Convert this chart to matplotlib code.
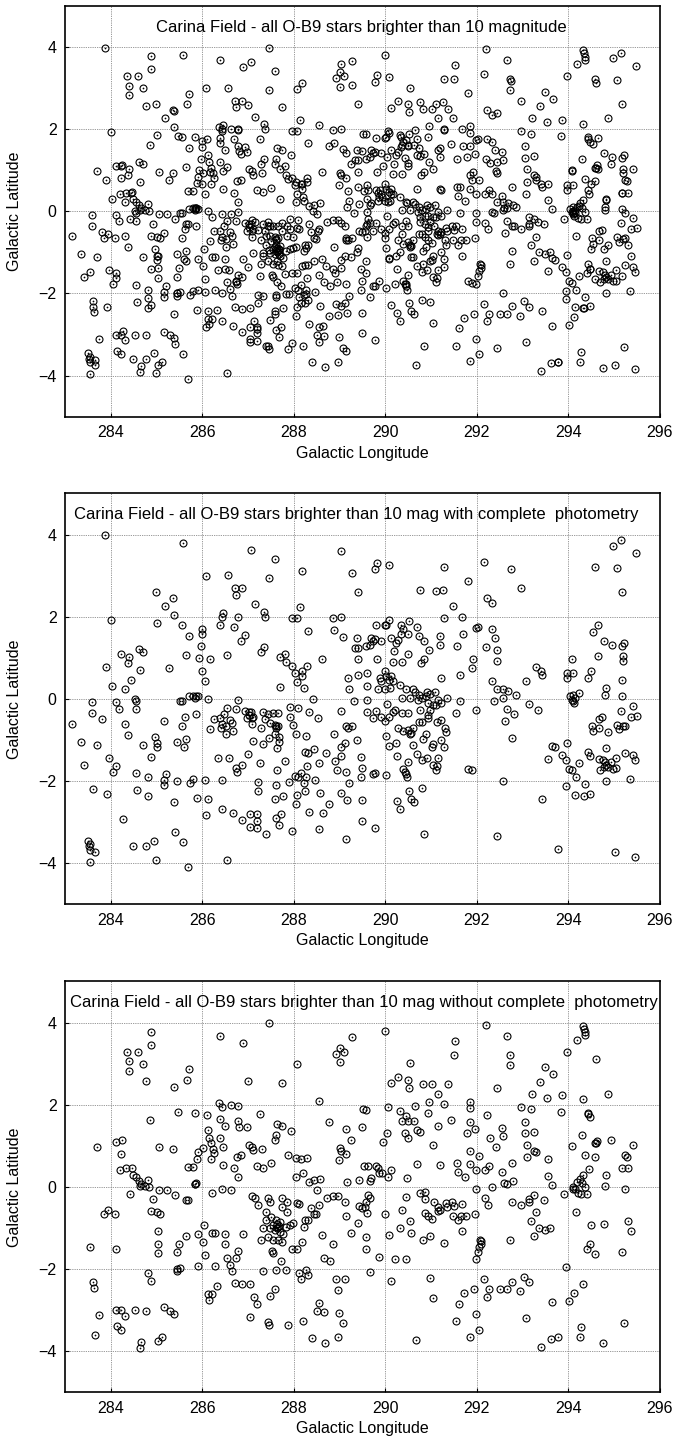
import numpy as np
import matplotlib
matplotlib.use("Agg")
import matplotlib.pyplot as plt

plt.rcParams['font.family'] = ['Liberation Sans', 'DejaVu Sans']

# O-B9 stars (l, b) with complete photometry
phot_stars = [
    (283.87, 3.98), (285.58, 3.80), (287.06, 3.62), (287.59, 3.41), (289.04, 3.59),
    (286.08, 2.99), (286.56, 3.01), (287.46, 2.94), (288.18, 3.12), (289.28, 3.07),
    (284.99, 2.61), (286.71, 2.69), (286.86, 2.69), (286.73, 2.54), (285.36, 2.46),
    (285.18, 2.27), (287.16, 2.30), (288.13, 2.23), (289.41, 2.61), (285.39, 2.05),
    (286.46, 2.09), (286.43, 2.00), (287.35, 2.12), (287.37, 1.99), (286.78, 1.99),
    (287.97, 1.96), (288.06, 1.96), (288.85, 1.97), (289.04, 1.99), (284.00, 1.92),
    (285.02, 1.86), (285.56, 1.81), (286.00, 1.70), (286.38, 1.79), (286.70, 1.75),
    (288.31, 1.66), (288.88, 1.67), (285.99, 1.57), (285.71, 1.53), (286.94, 1.56),
    (286.85, 1.40), (289.07, 1.51), (289.39, 1.49), (285.98, 1.28), (287.35, 1.27),
    (287.28, 1.15), (289.33, 1.24), (289.41, 1.25), (284.62, 1.21), (284.71, 1.15),
    (284.23, 1.10), (284.40, 1.02), (284.38, 0.88), (285.64, 1.08), (286.55, 1.08),
    (285.93, 1.00), (286.16, 0.96), (287.70, 1.02), (287.80, 1.10), (287.82, 0.89),
    (287.97, 0.81), (288.29, 0.80), (288.62, 0.96), (289.41, 0.96), (283.89, 0.77),
    (284.64, 0.71), (285.27, 0.75), (285.99, 0.67), (288.02, 0.63), (288.18, 0.67),
    (288.18, 0.55), (289.60, 0.63), (284.44, 0.45), (286.07, 0.43), (288.06, 0.42),
    (289.19, 0.50), (289.41, 0.59), (284.03, 0.31), (284.32, 0.23), (287.70, 0.30),
    (288.22, 0.26), (289.21, 0.24), (289.60, 0.31),
    (285.52, -0.05), (285.55, -0.05), (285.71, 0.06), (285.80, 0.07), (285.86, 0.07),
    (285.90, 0.06), (285.84, 0.03), (286.13, 0.00), (286.78, -0.02), (283.58, -0.08),
    (284.11, -0.08), (284.52, 0.00), (284.55, -0.05), (284.18, -0.24), (284.55, -0.24),
    (283.58, -0.35), (283.81, -0.50), (283.15, -0.61), (284.32, -0.60), (285.16, -0.54),
    (285.63, -0.43), (285.87, -0.36), (285.56, -0.66), (284.37, -0.88), (283.35, -1.04),
    (283.69, -1.12), (284.71, -1.12), (284.97, -0.92), (285.02, -1.08), (285.00, -1.18),
    (285.44, -1.05), (285.64, -0.97), (285.60, -1.17), (284.87, -1.41), (283.96, -1.44),
    (283.42, -1.61), (284.12, -1.62), (284.05, -1.77), (284.55, -1.80), (284.82, -1.91),
    (285.20, -1.82), (285.16, -1.97), (285.17, -2.09), (285.44, -1.99), (285.73, -2.04),
    (285.80, -1.95), (286.06, -1.97), (286.43, -1.98), (283.61, -2.19), (283.92, -2.32),
    (284.57, -2.21), (284.81, -2.36), (285.38, -2.51), (285.89, -2.41), (286.13, -2.43),
    (284.27, -2.92), (286.09, -2.82), (286.44, -2.68), (286.67, -2.78), (286.86, -2.94),
    (287.04, -2.81), (287.19, -2.81), (287.20, -2.97), (287.04, -3.12), (287.19, -3.15),
    (287.40, -3.29), (287.60, -2.90), (287.71, -2.81), (287.67, -3.07), (287.97, -3.21),
    (285.41, -3.23), (285.58, -3.47), (284.94, -3.45), (284.78, -3.59), (284.49, -3.59),
    (283.50, -3.45), (283.54, -3.54), (283.54, -3.67), (283.65, -3.73), (283.53, -3.59),
    (283.54, -3.97), (284.98, -3.93), (285.69, -4.09), (286.53, -3.93),
    (286.26, -0.49), (286.38, -0.47), (286.48, -0.36), (286.53, -0.23), (286.44, -0.62),
    (286.41, -0.70), (286.51, -0.67), (286.51, -0.86), (286.60, -0.51), (286.66, -0.59),
    (286.67, -0.79), (286.73, -0.24), (286.16, -0.73), (286.94, -0.29), (287.01, -0.31),
    (287.06, -0.32), (287.02, -0.39), (286.97, -0.47), (287.08, -0.47), (287.11, -0.43),
    (287.08, -0.62), (287.33, -0.32), (287.44, -0.37), (287.55, -0.35), (287.66, -0.35),
    (287.37, -0.49), (287.48, -0.59), (287.59, -0.63), (287.62, -0.67), (287.66, -0.65),
    (287.61, -0.71), (287.28, -0.70), (287.11, -1.02), (287.32, -1.10), (287.45, -0.94),
    (287.59, -0.86), (287.67, -0.93), (287.67, -1.05), (287.64, -1.20), (287.91, -0.19),
    (287.91, -0.43), (288.10, -0.21), (287.99, -0.63), (288.42, 0.00), (288.34, -0.32),
    (288.52, -0.47), (288.04, -0.86), (288.26, -0.90), (289.04, -0.29), (289.14, -0.65),
    (289.19, -0.71), (289.28, -0.65), (289.31, -0.04), (289.60, -0.02), (289.60, -0.32),
    (289.39, -1.00), (288.88, -0.86), (289.12, -1.08), (289.02, -1.18), (288.24, -1.30),
    (288.31, -1.31), (288.44, -1.22), (288.70, -1.32), (288.90, -1.51), (289.02, -1.39),
    (288.55, -1.55), (288.29, -1.63), (288.15, -1.79), (287.81, -1.52), (287.64, -1.73),
    (288.03, -1.87), (288.10, -1.91), (288.23, -2.04), (288.27, -1.91), (287.90, -2.01),
    (288.47, -1.97), (288.94, -1.73), (289.15, -1.78), (289.21, -2.05), (289.46, -1.91),
    (289.48, -1.69), (289.47, -1.41), (286.34, -1.44), (286.58, -1.44), (286.73, -1.69),
    (286.75, -1.78), (286.87, -1.61), (286.99, -1.35), (287.26, -1.57), (287.21, -2.03),
    (287.21, -2.24), (287.62, -2.09), (287.77, -2.35), (287.59, -2.43), (288.07, -2.34),
    (288.05, -2.55), (288.25, -2.24), (288.58, -2.30), (288.77, -2.55), (288.34, -2.74),
    (288.64, -2.78), (289.04, -2.30), (289.17, -2.47), (289.48, -2.47), (289.50, -2.97),
    (288.56, -3.17), (289.15, -3.41),
    (295.15, 3.86), (294.98, 3.72), (295.47, 3.54), (294.58, 3.21), (295.07, 3.19),
    (295.18, 2.60), (292.16, 3.33), (292.74, 3.17), (291.28, 3.22), (290.09, 3.27),
    (289.77, 3.15), (289.82, 3.31), (291.81, 2.88), (290.75, 2.66), (291.10, 2.62),
    (291.26, 2.66), (292.97, 2.69), (292.23, 2.46), (292.33, 2.34), (291.47, 2.27),
    (291.28, 1.97), (291.68, 1.99), (291.99, 1.73), (292.03, 1.75), (291.70, 1.58),
    (292.34, 1.69), (292.39, 1.49), (292.19, 1.26), (292.43, 1.20), (292.45, 0.93),
    (291.57, 1.28), (291.19, 1.53), (291.19, 1.32), (290.95, 1.20), (290.69, 1.75),
    (290.74, 1.54), (290.84, 1.40), (290.35, 1.81), (290.52, 1.89), (290.35, 1.57),
    (290.39, 1.69), (290.50, 1.59), (290.09, 1.91), (290.02, 1.81), (289.80, 1.79),
    (289.99, 1.79), (289.69, 1.49), (289.73, 1.41), (289.66, 1.32), (289.77, 1.45),
    (289.91, 1.42), (290.13, 1.49), (290.24, 1.36), (290.28, 1.44), (290.19, 1.16),
    (290.50, 1.10), (290.37, 0.90), (290.17, 0.90), (289.82, 0.96), (289.58, 1.28),
    (290.77, 0.88), (290.84, 0.96), (291.92, 0.96), (291.90, 0.76), (291.22, 0.51),
    (291.64, 0.59), (289.99, 0.67), (290.02, 0.55), (290.08, 0.47), (290.17, 0.43),
    (290.13, 0.55), (289.88, 0.51), (289.90, 0.43), (290.31, 0.35), (290.46, 0.23),
    (290.60, 0.23), (293.30, 0.77), (293.43, 0.58), (293.41, 0.67), (293.97, 0.63),
    (294.10, 0.63), (293.97, 0.51), (294.07, 0.98), (294.43, 0.51), (294.50, 0.67),
    (294.65, 1.04), (294.83, 0.27), (295.17, 0.45), (295.19, 1.04), (295.19, 0.92),
    (295.22, 1.36), (295.16, 1.30), (294.54, 1.63), (294.65, 1.79), (294.78, 1.42),
    (294.96, 1.32), (292.33, 0.43), (292.43, 0.23), (292.57, 0.23), (292.68, 0.19),
    (293.08, 0.43),
    (289.73, -0.47), (289.80, -0.29), (289.91, -0.43), (289.99, -0.54), (290.09, -0.43),
    (290.17, -0.31), (290.20, -0.27), (290.04, -0.12), (289.84, 0.24), (289.99, 0.24),
    (290.11, 0.26), (290.37, 0.02), (290.53, 0.03), (290.64, 0.18), (290.74, 0.10),
    (290.71, -0.02), (290.79, 0.02), (290.90, 0.16), (290.89, 0.06), (290.97, 0.11),
    (291.08, 0.16), (290.93, -0.11), (291.03, -0.15), (290.98, -0.27), (291.10, -0.15),
    (291.15, -0.02), (291.22, -0.11), (291.35, 0.02), (291.63, -0.05), (291.54, -0.35),
    (291.98, -0.27), (290.37, -0.35), (290.50, -0.35), (290.75, -0.27), (290.74, -0.55),
    (290.93, -0.39), (290.93, -0.47), (290.79, -0.55), (291.13, -0.55), (291.22, -0.51),
    (290.28, -0.71), (290.39, -0.79), (290.50, -0.75), (290.53, -0.86), (290.57, -0.84),
    (290.60, -0.71), (291.30, -0.70), (291.32, -0.81), (290.02, -0.89), (290.24, -1.08),
    (290.08, -1.14), (290.60, -1.12), (290.82, -0.97), (290.88, -0.86), (291.03, -1.10),
    (291.02, -1.18), (291.22, -1.00), (291.28, -1.16), (290.26, -1.40), (290.69, -1.34),
    (290.79, -1.48), (290.91, -1.44), (291.15, -1.44), (290.50, -1.54), (291.04, -1.61),
    (291.13, -1.62), (291.10, -1.73), (290.39, -1.70), (290.45, -1.83), (290.48, -1.91),
    (290.42, -1.78), (290.02, -1.86), (289.72, -1.83), (289.77, -1.81), (291.81, -1.70),
    (291.90, -1.74), (292.58, -2.00), (290.52, -2.24), (290.79, -2.17), (290.26, -2.48),
    (290.57, -2.43), (290.62, -2.51), (290.33, -2.68), (289.77, -3.13), (290.84, -3.29),
    (292.44, -3.33), (293.43, -2.43), (293.78, -3.66), (295.01, -3.73), (295.46, -3.84),
    (292.86, 0.10), (292.37, -0.04), (292.56, 0.02), (292.65, -0.24), (292.81, -0.37),
    (292.62, -0.54), (293.13, -0.13), (293.34, -0.27), (292.76, -0.96),
    (294.03, 0.06), (294.07, -0.02), (294.10, -0.06), (294.14, 0.02), (294.10, 0.10),
    (294.23, 0.14), (294.12, -0.11), (294.80, 0.10), (295.18, 0.06), (295.42, -0.16),
    (295.50, -0.41), (295.36, -0.43), (295.14, -0.29), (294.67, -0.49), (294.73, -0.45),
    (294.52, -0.66), (294.54, -0.79), (294.67, -0.71), (294.87, -0.81), (295.07, -0.63),
    (295.11, -0.74), (295.20, -0.67), (295.23, -0.66), (293.63, -1.14), (293.70, -1.18),
    (293.56, -1.46), (293.85, -1.36), (293.96, -1.06), (293.94, -1.48), (294.02, -1.70),
    (294.07, -1.74), (294.16, -1.91), (294.23, -1.57), (294.43, -1.28), (294.47, -1.40),
    (294.83, -1.20), (294.67, -1.46), (294.76, -1.48), (294.80, -1.54), (294.83, -1.61),
    (294.87, -1.65), (294.77, -1.65), (294.70, -1.73), (294.94, -1.54), (294.98, -1.70),
    (295.04, -1.69), (295.04, -1.43), (294.83, -1.99), (295.23, -1.31), (295.40, -1.36),
    (295.46, -1.49), (295.35, -1.95), (293.94, -2.13), (294.14, -2.34), (294.34, -2.36),
    (294.48, -2.31), (294.36, -2.08),
]

# O-B9 stars (l, b) without complete photometry
nophot_stars = [
    (287.46, 3.98), (284.87, 3.77), (286.38, 3.67), (286.88, 3.51), (289.28, 3.66),
    (284.36, 3.29), (284.60, 3.29), (284.89, 3.45), (284.39, 3.06), (284.71, 3.00),
    (284.39, 2.83), (289.01, 3.38), (289.09, 3.29), (288.92, 3.24), (289.01, 3.03),
    (288.07, 2.98), (285.71, 2.86), (285.67, 2.60), (284.77, 2.57), (285.38, 2.43),
    (286.99, 2.58), (287.74, 2.53), (288.56, 2.09), (286.37, 2.04), (286.42, 1.95),
    (286.62, 1.99), (286.79, 1.97), (284.85, 1.62), (285.46, 1.83), (285.84, 1.81),
    (286.10, 1.75), (287.27, 1.77), (286.38, 1.65), (286.49, 1.49), (286.77, 1.60),
    (286.80, 1.47), (286.97, 1.45), (286.12, 1.38), (286.14, 1.20), (286.39, 1.19),
    (286.46, 0.97), (286.19, 1.06), (287.64, 1.53), (287.75, 1.49), (287.62, 1.26),
    (287.59, 1.15), (287.94, 1.36), (288.77, 1.58), (289.14, 1.42), (289.26, 1.15),
    (289.50, 1.46), (289.52, 1.89), (289.58, 1.88), (289.00, 0.94), (289.04, 0.88),
    (289.14, 0.80), (288.99, 0.65), (283.71, 0.98), (284.12, 1.10), (284.25, 1.13),
    (284.22, 0.80), (285.06, 0.96), (285.36, 0.93), (285.91, 0.84), (285.89, 0.69),
    (286.02, 0.94), (286.24, 0.92), (286.25, 0.82), (286.19, 0.67), (286.75, 0.73),
    (286.84, 0.77), (287.02, 1.02), (287.08, 0.98), (287.11, 0.89), (287.30, 0.92),
    (287.19, 0.51), (287.33, 0.47), (287.50, 0.57), (286.45, 0.54), (286.70, 0.45),
    (286.78, 0.23), (287.88, 0.78), (288.05, 0.70), (288.15, 0.67), (288.28, 0.70),
    (285.69, 0.49), (285.80, 0.49), (284.21, 0.42), (284.33, 0.45), (284.47, 0.47),
    (284.49, 0.29), (284.55, 0.23), (284.61, 0.15), (284.67, 0.07), (284.82, 0.18),
    (284.63, 0.03), (284.74, 0.03), (284.84, 0.01), (284.43, -0.18), (285.06, -0.07),
    (285.23, -0.07), (285.41, -0.20), (285.84, 0.07), (285.86, 0.09), (285.85, 0.06),
    (286.22, -0.14), (286.42, -0.06), (286.62, -0.07), (288.05, 0.23), (288.21, 0.35),
    (288.34, 0.13), (288.44, 0.16), (288.57, 0.20), (288.51, -0.07), (289.17, 0.11),
    (289.42, 0.17), (289.53, 0.50),
    (292.19, 3.94), (290.00, 3.80), (292.65, 3.68), (294.32, 3.92), (294.34, 3.84),
    (294.36, 3.76), (294.36, 3.69), (294.19, 3.58), (293.96, 3.29), (294.61, 3.11),
    (291.52, 3.55), (291.50, 3.21), (290.53, 3.01), (292.73, 3.22), (292.72, 2.96),
    (290.28, 2.68), (290.12, 2.52), (290.50, 2.61), (290.51, 2.41), (290.82, 2.50),
    (291.01, 2.50), (291.37, 2.50), (291.15, 2.26), (290.95, 2.07), (290.93, 1.81),
    (291.28, 2.01), (290.64, 1.97), (290.06, 1.95), (292.43, 2.40), (293.48, 2.91),
    (293.67, 2.74), (293.37, 2.56), (293.21, 2.26), (293.54, 2.16), (293.86, 2.23),
    (293.83, 1.83), (294.87, 2.26), (294.31, 2.13), (291.84, 2.07), (291.86, 1.91),
    (290.31, 1.85), (290.44, 1.73), (290.37, 1.61), (290.50, 1.61), (290.63, 1.61),
    (290.42, 1.30), (290.50, 1.18), (290.69, 1.38), (290.75, 1.34), (290.04, 1.32),
    (289.95, 1.10), (291.14, 1.49), (291.03, 1.02), (291.44, 1.63), (291.84, 1.58),
    (291.95, 1.40), (291.79, 1.32), (292.22, 1.75), (292.96, 1.95), (293.18, 1.89),
    (293.06, 1.59), (293.05, 1.30), (293.24, 1.34), (292.55, 1.43), (292.57, 1.24),
    (292.28, 1.18), (292.41, 0.98), (293.10, 1.02), (293.24, 0.88), (293.29, 0.84),
    (293.10, 0.72), (293.56, 0.67), (291.84, 0.88), (292.04, 0.76), (291.57, 0.59),
    (291.59, 0.37), (291.75, 0.24), (291.84, 0.55), (291.99, 0.41), (292.17, 0.41),
    (292.27, 0.51), (291.20, 0.54), (290.69, 0.55), (290.48, 0.21), (292.54, 0.37),
    (292.77, 0.58), (293.56, 0.27), (293.65, 0.05), (292.59, 0.09), (292.65, 0.07),
    (292.78, 0.15), (292.32, -0.01), (291.98, -0.04), (294.08, 1.00), (294.29, 1.26),
    (294.42, 1.77), (294.47, 1.69), (294.43, 1.81), (294.58, 1.06), (294.63, 1.12),
    (294.60, 1.06), (294.92, 1.15), (295.40, 1.02), (294.36, 0.78), (294.57, 0.74),
    (295.23, 0.77), (295.27, 0.74), (295.17, 0.45), (295.31, 0.45), (294.45, 0.43),
    (294.82, 0.29), (294.31, 0.28), (294.25, 0.19), (294.29, 0.09), (294.18, 0.11),
    (294.11, 0.01), (294.14, -0.04), (294.09, -0.05), (294.36, -0.01), (294.80, 0.03),
    (295.23, -0.04), (289.62, 0.51), (289.80, 0.51), (289.84, 0.45), (289.93, 0.35),
    (290.13, 0.42), (290.06, 0.23), (289.86, 0.35), (289.66, 0.15), (289.69, 0.21),
    (285.64, -0.32), (285.69, -0.32), (284.93, -0.30), (287.08, -0.22), (287.15, -0.26),
    (287.44, -0.26), (287.49, -0.36), (287.75, -0.28), (287.86, -0.36), (287.75, -0.48),
    (287.86, -0.60), (287.22, -0.45), (287.40, -0.61), (287.40, -0.81), (287.51, -0.73),
    (287.62, -0.81), (287.55, -0.93), (287.66, -0.97), (287.70, -0.85), (287.59, -1.05),
    (287.70, -1.09), (287.48, -1.01), (287.32, -1.01), (287.29, -1.28), (287.44, -1.21),
    (287.55, -1.28), (287.66, -1.30), (287.77, -1.14), (287.75, -1.34), (287.84, -0.97),
    (287.91, -0.93), (287.99, -0.89), (287.64, -0.90), (287.68, -0.95), (287.63, -1.00),
    (288.07, -0.40), (288.12, -0.42), (288.24, -0.81), (288.31, -0.81), (288.23, -0.97),
    (288.37, -0.51), (288.44, -0.65), (288.48, -0.67), (288.56, -0.44), (288.72, -0.26),
    (288.85, -0.22), (288.97, -0.22), (289.12, -0.36), (289.14, -0.71), (289.42, -0.47),
    (289.48, -0.51), (289.41, -0.89), (289.26, -1.11), (288.62, -1.17), (288.86, -1.40),
    (288.66, -1.72), (288.80, -1.81), (287.97, -1.50), (288.07, -1.50), (288.17, -1.33),
    (287.53, -1.55), (287.54, -1.60), (287.72, -1.81), (287.61, -2.03), (287.84, -2.02),
    (287.33, -2.05), (286.88, -1.15), (286.49, -1.15), (286.21, -1.11), (286.27, -1.11),
    (286.03, -0.93), (285.91, -1.15), (286.01, -1.33), (285.64, -1.20), (285.49, -1.38),
    (285.45, -1.59), (285.03, -1.08), (285.03, -1.39), (285.03, -1.62), (284.87, -0.59),
    (285.00, -0.62), (285.07, -0.66), (283.85, -0.65), (283.93, -0.56), (284.10, -0.65),
    (283.54, -1.47), (284.12, -1.51), (286.06, -1.66), (286.49, -1.40), (286.55, -1.72),
    (286.73, -1.72), (286.79, -1.56), (286.60, -1.90), (286.64, -2.05), (286.27, -1.92),
    (285.91, -1.92), (285.44, -2.00), (285.45, -2.05), (285.52, -1.97), (284.82, -2.10),
    (284.87, -2.28), (283.61, -2.32), (283.63, -2.45), (286.33, -2.41), (286.13, -2.61),
    (286.21, -2.61), (286.14, -2.74), (286.71, -2.33), (286.87, -2.37), (287.05, -2.36),
    (287.13, -2.67), (287.19, -2.86), (287.59, -2.49), (287.48, -2.65), (287.05, -3.17),
    (287.44, -3.28), (287.45, -3.35), (287.88, -3.36), (288.20, -3.27), (288.40, -3.67),
    (288.69, -3.79), (288.97, -3.66), (288.56, -2.82), (288.66, -3.04), (288.50, -3.01),
    (289.07, -3.32), (288.98, -3.06), (288.97, -2.52), (288.93, -2.25), (289.12, -2.23),
    (288.12, -2.09), (288.15, -2.24), (288.26, -2.02), (288.31, -2.15), (283.74, -3.12),
    (283.66, -3.61), (284.11, -3.00), (284.22, -3.00), (284.31, -3.14), (284.14, -3.39),
    (284.23, -3.47), (284.54, -3.00), (284.78, -3.02), (285.16, -2.93), (285.29, -3.01),
    (285.39, -3.09), (285.03, -3.75), (285.11, -3.66), (284.66, -3.77), (284.63, -3.91),
    (289.66, -0.28), (289.58, -0.36), (289.55, -0.48), (289.60, -0.63), (289.57, -1.21),
    (289.58, -1.51), (289.67, -2.08), (289.86, -1.70), (289.99, -0.66), (290.08, -1.17),
    (290.12, -2.29), (290.20, -1.76), (290.44, -1.76), (290.44, -0.24), (290.37, -0.56),
    (290.53, -0.83), (290.55, -1.11), (290.33, -0.99), (290.86, -0.30), (290.86, -0.63),
    (290.93, -0.70), (291.01, -0.77), (291.06, -0.36), (291.15, -0.48), (291.19, -0.56),
    (291.15, -0.58), (291.33, -0.40), (291.35, -0.48), (291.46, -0.36), (291.50, -0.46),
    (291.68, -0.42), (291.48, -0.70), (291.59, -0.81), (291.66, -0.70), (291.77, -0.70),
    (291.95, -0.66), (290.82, -1.29), (290.98, -1.20), (291.28, -1.36), (291.68, -1.08),
    (290.97, -2.21), (291.03, -2.71), (290.66, -3.73), (291.54, -3.27), (291.61, -2.84),
    (291.71, -2.59), (291.84, -3.65), (292.05, -3.48), (291.99, -3.10), (291.94, -2.49),
    (291.97, -1.76), (292.03, -1.58), (292.04, -1.46), (292.08, -1.38), (292.06, -1.29),
    (292.10, -1.31), (292.15, -2.25), (292.26, -2.49), (292.21, -2.67), (292.17, -0.28),
    (292.24, -0.43), (292.50, -2.49), (292.66, -2.49), (292.76, -2.31), (292.94, -2.54),
    (293.02, -2.19), (293.14, -2.32), (292.72, -1.29), (292.77, -0.36), (292.97, -0.43),
    (293.14, -0.30), (293.14, -0.36), (293.47, -0.32), (293.19, -0.83), (293.29, -0.62),
    (293.24, -1.20), (293.36, -0.99), (293.48, -1.04), (293.59, -1.00), (293.08, -3.18),
    (293.64, -2.79), (293.40, -3.89), (293.61, -3.69), (293.78, -3.66), (293.94, -1.95),
    (294.02, -2.77), (294.13, -2.57), (294.31, -2.36), (294.17, -0.61), (294.27, -3.42),
    (294.25, -3.66), (294.75, -3.81), (295.21, -3.31), (294.50, -0.92), (294.77, -0.91),
    (294.47, -1.40), (294.41, -1.50), (294.59, -1.64), (295.16, -1.58), (295.31, -0.82),
    (295.36, -1.08), (290.75, -0.14), (290.86, -0.12), (293.25, -0.20), (293.91, -0.18),
    (294.21, -0.16), (294.27, -0.18), (294.40, -0.18), (289.62, -0.20),
]

titles = [
    "Carina Field - all O-B9 stars brighter than 10 magnitude",
    "Carina Field - all O-B9 stars brighter than 10 mag with complete  photometry",
    "Carina Field - all O-B9 stars brighter than 10 mag without complete  photometry",
]
title_x = [289.47, 289.37, 289.53]

phot = np.array(phot_stars)
nophot = np.array(nophot_stars)
allstars = np.vstack([phot, nophot])
panels = [allstars, phot, nophot]

fig = plt.figure(figsize=(6.74, 14.45), dpi=100)
bottoms = [0.7116, 0.3741, 0.0364]

for data, title, tx, bot in zip(panels, titles, title_x, bottoms):
    ax = fig.add_axes([0.0964, bot, 0.8828, 0.2844])
    # open circle with a dot in the middle
    ax.plot(data[:, 0], data[:, 1], 'o', mfc='none', mec='black', ms=5.0, mew=0.8)
    ax.plot(data[:, 0], data[:, 1], 'o', mfc='black', mec='black', ms=0.9, mew=0.3)
    ax.set_xlim(283, 296)
    ax.set_ylim(-5, 5)
    ax.set_xticks(range(284, 297, 2))
    ax.set_yticks([-4, -2, 0, 2, 4])
    ax.grid(True, color='#8c8c8c', linestyle=(0, (1.5, 1.2)), linewidth=0.6)
    ax.set_axisbelow(True)
    ax.tick_params(direction='in', length=3, width=0.8, labelsize=11.5, pad=6)
    for sp in ax.spines.values():
        sp.set_linewidth(1.2)
    ax.text(tx, 4.48, title, ha='center', va='center', fontsize=12)
    ax.set_xlabel("Galactic Longitude", fontsize=11.5, labelpad=4)
    ax.set_ylabel("Galactic Latitude", fontsize=11.5, labelpad=12)

fig.savefig("out.png", dpi=100)
